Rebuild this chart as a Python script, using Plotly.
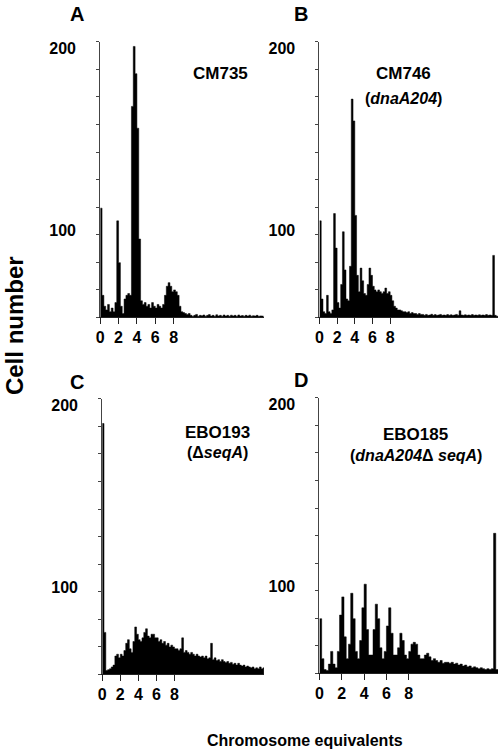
import numpy as np
import plotly.graph_objects as go

# ---------------- data (cell counts per 0.2-chromosome-equivalent channel) ----------------
BIN = 0.2

counts_A = [112, 64, 58, 56, 59, 55, 57, 55, 60, 105,
            82, 58, 54, 62, 64, 65, 64, 168, 201, 186,
            156, 95, 61, 59, 60, 58, 59, 57, 60, 58,
            57, 59, 58, 57, 59, 64, 69, 71, 69, 66,
            67, 66, 64, 58, 55, 54.5, 54, 53.5, 54, 53,
            52.5, 53, 53.5, 52.5, 53, 52.8, 53.2, 52.5, 53, 53.4,
            52.6, 53, 52.5, 53.3, 52.7, 53, 52.5, 53.2, 52.6, 53,
            52.5, 53.1, 52.7, 53, 52.5, 53.2, 52.6, 52.9, 52.5, 53,
            52.6, 53.1, 52.5, 52.8, 52.6, 53, 52.5, 52.7, 52.6]

counts_B = [105, 62, 55, 54, 64, 55, 54, 56, 109, 90,
            60, 57, 70, 99, 78, 62, 61, 80, 172, 160,
            108, 75, 66, 79, 72, 65, 64, 70, 79, 75,
            69, 67, 66, 67, 66, 65, 66, 68, 65, 66,
            64, 61, 58, 57, 56, 56, 55.5, 55, 55, 54.5,
            55, 54, 54.5, 54, 54, 53.5, 54, 53.5, 53.5, 53,
            53.5, 53, 53.2, 53.6, 53, 53.4, 53, 53.2, 53.5, 53,
            53.2, 53, 53.4, 53, 53.3, 53, 53.2, 53.5, 53, 55.5,
            53.2, 53, 53.3, 53, 53.2, 53, 53.4, 53, 53.2, 53,
            53.3, 53, 53.2, 53, 53.4, 53, 53.2, 53, 86, 53,
            52.5]

counts_C = [190, 75, 54, 54.5, 55, 56, 57, 62, 63, 61,
            63, 62, 65, 69, 71, 66, 64, 70, 78, 74,
            71, 70, 72, 75, 77, 73, 72, 74, 74, 72,
            72, 70, 71, 69, 70, 68, 69, 67, 68, 67,
            66, 66, 65, 66, 72, 64, 65, 64, 63, 64,
            63, 62, 63, 62, 61.5, 62, 61, 62, 60.5, 61,
            69, 60, 61, 59.5, 60, 59, 60, 59, 58.5, 59,
            58, 58.5, 57.5, 58, 57, 58, 57, 56.5, 57, 56,
            56.5, 56, 55.5, 56, 55, 55.5, 55, 56, 55, 55.5]

counts_D = [82, 60, 54, 53.5, 57, 64, 57, 55, 64, 84,
            94, 72, 60, 68, 96, 82, 64, 60, 70, 88,
            101, 76, 62, 62, 76, 90, 82, 66, 60, 64,
            78, 88, 74, 62, 62, 66, 74, 70, 62, 60,
            64, 68, 69, 68, 62, 60, 60, 62, 63, 61,
            59, 60, 59, 58, 59, 57.5, 58, 58, 57.5, 58,
            57, 57.5, 56.5, 57, 56, 56.5, 55.5, 56, 55, 55.5,
            55, 54.5, 55, 54.5, 54, 54.5, 54, 54.5, 129, 54]

panel_letters = ["A", "B", "C", "D"]
strain_names = ["CM735", "CM746", "EBO193", "EBO185"]
genotypes = ["", "(<i>dnaA204</i>)", "(Δ<i>seqA</i>)", "(<i>dnaA204</i>Δ <i>seqA</i>)"]
x_tick_vals = [0, 2, 4, 6, 8]
x_tick_text = ["0", "2", "4", "6", "8"]
y_tick_vals = [100, 200]
y_tick_text = ["100", "200"]
y_axis_title = "Cell number"
x_axis_title = "Chromosome equivalents"

# ---------------- layout helpers ----------------
W, H = 500, 751
FONT = "Arial, Liberation Sans, Helvetica, sans-serif"
Y_RANGE = [52, 203.5]

def px_x(p):
    return p / W

def px_y(p):
    return 1 - p / H

# panel boxes in pixels: (left, right, top, bottom), x range upper limit
panels = [
    dict(box=(97, 262, 40, 316), xmax=17.84, counts=counts_A),
    dict(box=(318, 498, 40, 316), xmax=20.2, counts=counts_B),
    dict(box=(99, 262, 398, 674), xmax=17.9, counts=counts_C),
    dict(box=(318, 498, 397, 673), xmax=16.0, counts=counts_D),
]

fig = go.Figure()
layout = dict(
    width=W, height=H,
    margin=dict(l=0, r=0, t=0, b=0),
    paper_bgcolor="white", plot_bgcolor="white",
    showlegend=False,
    font=dict(family=FONT, color="black"),
)

minor_y = list(np.linspace(Y_RANGE[0], Y_RANGE[1], 11))

for i, p in enumerate(panels):
    n = i + 1
    xa = "x" if n == 1 else f"x{n}"
    ya = "y" if n == 1 else f"y{n}"
    counts = np.asarray(p["counts"], dtype=float)
    edges = np.arange(len(counts) + 1) * BIN
    # histogram outline as a step polygon built from the channel edges and counts
    step_x = np.repeat(edges, 2)[1:-1]
    step_y = np.repeat(counts, 2)
    fig.add_trace(go.Scatter(
        x=step_x, y=step_y,
        mode="lines", line=dict(color="black", width=0.5, simplify=False),
        fill="tozeroy", fillcolor="black",
        xaxis=xa, yaxis=ya, hoverinfo="skip",
    ))
    l, r, t, b = p["box"]
    layout[f"xaxis{'' if n == 1 else n}"] = dict(
        domain=[px_x(l), px_x(r)], range=[0, p["xmax"]],
        anchor=ya, showgrid=False, zeroline=False,
        showline=True, linecolor="#222", linewidth=1,
        tickmode="array", tickvals=x_tick_vals, ticktext=x_tick_text,
        ticks="outside", ticklen=6, tickwidth=1, tickcolor="#222",
        tickfont=dict(family=FONT, size=16, color="black", weight="bold"),
        fixedrange=True,
    )
    layout[f"yaxis{'' if n == 1 else n}"] = dict(
        domain=[px_y(b), px_y(t)], range=Y_RANGE,
        anchor=xa, showgrid=False, zeroline=False,
        showline=True, linecolor="#444", linewidth=1,
        tickmode="array", tickvals=y_tick_vals, ticktext=y_tick_text,
        ticks="outside", ticklen=20, tickcolor="rgba(0,0,0,0)",
        tickfont=dict(family=FONT, size=16, color="black", weight="bold"),
        minor=dict(tickmode="array", tickvals=minor_y, ticks="outside",
                   ticklen=3, tickwidth=1, tickcolor="#444"),
        fixedrange=True,
    )

fig.update_layout(**layout)

# panel letters
letter_pos = [(73.5, 12.5), (299, 12), (74, 381), (299, 379)]
for letter, (x, y) in zip(panel_letters, letter_pos):
    fig.add_annotation(x=px_x(x), y=px_y(y), xref="paper", yref="paper",
                       text=f"<b>{letter}</b>", showarrow=False,
                       font=dict(family=FONT, size=20, color="black"),
                       xanchor="center", yanchor="middle")

# strain labels
name_pos = [(218, 72), (403, 72), (215, 432), (415, 434)]
geno_pos = [None, (403, 97), (215, 452), (415, 455)]
for name, geno, npos, gpos in zip(strain_names, genotypes, name_pos, geno_pos):
    fig.add_annotation(x=px_x(npos[0]), y=px_y(npos[1]), xref="paper", yref="paper",
                       text=f"<b>{name}</b>", showarrow=False,
                       font=dict(family=FONT, size=17, color="black"),
                       xanchor="center", yanchor="middle")
    if geno:
        fig.add_annotation(x=px_x(gpos[0]), y=px_y(gpos[1]), xref="paper", yref="paper",
                           text=f"<b>{geno}</b>", showarrow=False,
                           font=dict(family=FONT, size=16, color="black"),
                           xanchor="center", yanchor="middle")

# shared axis titles
fig.add_annotation(x=px_x(10), y=px_y(324), xref="paper", yref="paper",
                   text=f"<b>{y_axis_title}</b>", showarrow=False, textangle=-90,
                   font=dict(family=FONT, size=24, color="black"),
                   xanchor="center", yanchor="middle")
fig.add_annotation(x=px_x(303), y=px_y(740), xref="paper", yref="paper",
                   text=f"<b>{x_axis_title}</b>", showarrow=False,
                   font=dict(family=FONT, size=16, color="black"),
                   xanchor="center", yanchor="middle")

fig.write_html(
    "out.html",
    config={"displayModeBar": False},
    post_script="document.body.style.margin='0';document.body.style.padding='0';"
                "document.body.style.overflow='hidden';",
)
